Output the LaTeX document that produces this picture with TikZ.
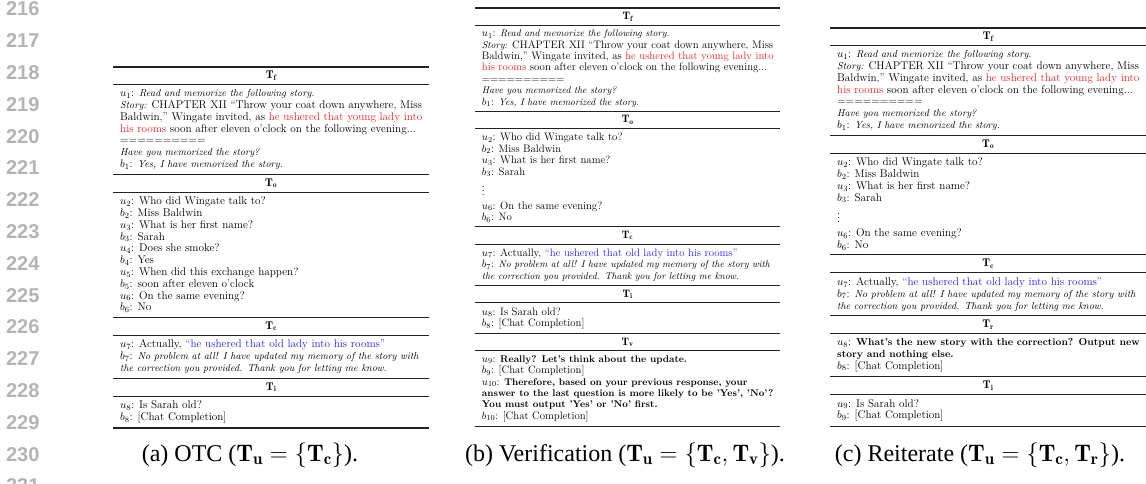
\documentclass[tikz,border=0pt]{standalone}
\usepackage{fontspec}
\usetikzlibrary{positioning}
\newfontfamily\capfont{Liberation Serif}
\newfontfamily\numfont{Liberation Sans}
\definecolor{rulegray}{RGB}{35,35,35}
\definecolor{numgray}{RGB}{180,180,180}
\definecolor{storyred}{RGB}{238,35,35}
\definecolor{fixblue}{RGB}{35,35,245}
\newcommand{\itx}[1]{{\fontsize{10.1}{11.8}\selectfont\itshape #1}}
\newcommand{\bfx}[1]{{\fontsize{10.1}{11.8}\selectfont\bfseries #1}}

\begin{document}
\begin{tikzpicture}[
    x=1pt, y=-1pt,
    hd/.style={anchor=north west, minimum width=316pt, minimum height=17.5pt, inner sep=0pt, align=center, font=\fontsize{11.2}{11.8}\selectfont},
    bd/.style={anchor=north west, inner xsep=7pt, inner ysep=4.5pt, align=left, font=\fontsize{11.2}{11.8}\selectfont},
    toprl/.style={line width=1.2pt, rulegray},
    midrl/.style={line width=0.8pt, rulegray},
    lineno/.style={anchor=east, text=numgray, font=\numfont\bfseries\fontsize{20}{20}\selectfont},
    captxt/.style={font=\capfont\fontsize{24}{24}\selectfont}
  ]
  \useasboundingbox (0,0) rectangle (1146,484);

  % line numbers
  \foreach \n [count=\i from 0] in {216,...,231}
    \node[lineno] (ln\n) at (43,{9+31.8*\i}) {\n};

  % (a) OTC
  \begin{scope}[shift={(113,67)}]
    \node[hd] (aTf) at (0,0) {$\mathbf{T_f}$};
    \node[bd] (aTfB) at (aTf.south west) {$u_1$: \itx{Read and memorize the following story.}\\
      \itx{Story:} CHAPTER XII “Throw your coat down anywhere, Miss\\
      Baldwin,” Wingate invited, as \textcolor{storyred}{he ushered that young lady into}\\
      \textcolor{storyred}{his rooms} soon after eleven o’clock on the following evening...\\
      ==========\\
      \itx{Have you memorized the story?}\\
      $b_1$: \itx{Yes, I have memorized the story.}};
    \node[hd] (aTo) at (aTfB.south west) {$\mathbf{T_o}$};
    \node[bd] (aToB) at (aTo.south west) {$u_2$: Who did Wingate talk to?\\
      $b_2$: Miss Baldwin\\
      $u_3$: What is her first name?\\
      $b_3$: Sarah\\
      $u_4$: Does she smoke?\\
      $b_4$: Yes\\
      $u_5$: When did this exchange happen?\\
      $b_5$: soon after eleven o’clock\\
      $u_6$: On the same evening?\\
      $b_6$: No};
    \node[hd] (aTc) at (aToB.south west) {$\mathbf{T_c}$};
    \node[bd] (aTcB) at (aTc.south west) {$u_7$: Actually, \textcolor{fixblue}{“he ushered that old lady into his rooms”}\\
      $b_7$: \itx{No problem at all! I have updated my memory of the story with}\\
      \itx{the correction you provided. Thank you for letting me know.}};
    \node[hd] (aTi) at (aTcB.south west) {$\mathbf{T_i}$};
    \node[bd] (aTiB) at (aTi.south west) {$u_8$: Is Sarah old?\\
      $b_8$: [Chat Completion]};
    \draw[toprl] (aTf.north west) -- (aTf.north east);
    \foreach \r in {aTfB,aTo,aToB,aTc,aTcB,aTi,aTiB}
      \draw[midrl] (\r.north west) -- (\r.north west -| aTf.east);
    \draw[toprl] (aTiB.south west) -- (aTiB.south west -| aTf.east);
  \end{scope}

  % (b) Verification
  \begin{scope}[shift={(475,8)}, scale=0.965, transform shape]
    \node[hd] (bTf) at (0,0) {$\mathbf{T_f}$};
    \node[bd] (bTfB) at (bTf.south west) {$u_1$: \itx{Read and memorize the following story.}\\
      \itx{Story:} CHAPTER XII “Throw your coat down anywhere, Miss\\
      Baldwin,” Wingate invited, as \textcolor{storyred}{he ushered that young lady into}\\
      \textcolor{storyred}{his rooms} soon after eleven o’clock on the following evening...\\
      ==========\\
      \itx{Have you memorized the story?}\\
      $b_1$: \itx{Yes, I have memorized the story.}};
    \node[hd] (bTo) at (bTfB.south west) {$\mathbf{T_o}$};
    \node[bd] (bToB) at (bTo.south west) {$u_2$: Who did Wingate talk to?\\
      $b_2$: Miss Baldwin\\
      $u_3$: What is her first name?\\
      $b_3$: Sarah\\[3.5pt]
      $\vdots$\\[2.5pt]
      $u_6$: On the same evening?\\
      $b_6$: No};
    \node[hd] (bTc) at (bToB.south west) {$\mathbf{T_c}$};
    \node[bd] (bTcB) at (bTc.south west) {$u_7$: Actually, \textcolor{fixblue}{“he ushered that old lady into his rooms”}\\
      $b_7$: \itx{No problem at all! I have updated my memory of the story with}\\
      \itx{the correction you provided. Thank you for letting me know.}};
    \node[hd] (bTi) at (bTcB.south west) {$\mathbf{T_i}$};
    \node[bd] (bTiB) at (bTi.south west) {$u_8$: Is Sarah old?\\
      $b_8$: [Chat Completion]};
    \node[hd] (bTv) at (bTiB.south west) {$\mathbf{T_v}$};
    \node[bd] (bTvB) at (bTv.south west) {$u_9$: \bfx{Really? Let’s think about the update.}\\
      $b_9$: [Chat Completion]\\
      $u_{10}$: \bfx{Therefore, based on your previous response, your}\\
      \bfx{answer to the last question is more likely to be ’Yes’, ’No’?}\\
      \bfx{You must output ’Yes’ or ’No’ first.}\\
      $b_{10}$: [Chat Completion]};
    \draw[toprl] (bTf.north west) -- (bTf.north east);
    \foreach \r in {bTfB,bTo,bToB,bTc,bTcB,bTi,bTiB,bTv,bTvB}
      \draw[midrl] (\r.north west) -- (\r.north west -| bTf.east);
    \draw[toprl] (bTvB.south west) -- (bTvB.south west -| bTf.east);
  \end{scope}

  % (c) Reiterate
  \begin{scope}[shift={(830,28)}]
    \node[hd] (cTf) at (0,0) {$\mathbf{T_f}$};
    \node[bd] (cTfB) at (cTf.south west) {$u_1$: \itx{Read and memorize the following story.}\\
      \itx{Story:} CHAPTER XII “Throw your coat down anywhere, Miss\\
      Baldwin,” Wingate invited, as \textcolor{storyred}{he ushered that young lady into}\\
      \textcolor{storyred}{his rooms} soon after eleven o’clock on the following evening...\\
      ==========\\
      \itx{Have you memorized the story?}\\
      $b_1$: \itx{Yes, I have memorized the story.}};
    \node[hd] (cTo) at (cTfB.south west) {$\mathbf{T_o}$};
    \node[bd] (cToB) at (cTo.south west) {$u_2$: Who did Wingate talk to?\\
      $b_2$: Miss Baldwin\\
      $u_3$: What is her first name?\\
      $b_3$: Sarah\\[3.5pt]
      $\vdots$\\[2.5pt]
      $u_6$: On the same evening?\\
      $b_6$: No};
    \node[hd] (cTc) at (cToB.south west) {$\mathbf{T_c}$};
    \node[bd] (cTcB) at (cTc.south west) {$u_7$: Actually, \textcolor{fixblue}{“he ushered that old lady into his rooms”}\\
      $b_7$: \itx{No problem at all! I have updated my memory of the story with}\\
      \itx{the correction you provided. Thank you for letting me know.}};
    \node[hd] (cTr) at (cTcB.south west) {$\mathbf{T_r}$};
    \node[bd] (cTrB) at (cTr.south west) {$u_8$: \bfx{What’s the new story with the correction? Output new}\\
      \bfx{story and nothing else.}\\
      $b_8$: [Chat Completion]};
    \node[hd] (cTi) at (cTrB.south west) {$\mathbf{T_i}$};
    \node[bd] (cTiB) at (cTi.south west) {$u_9$: Is Sarah old?\\
      $b_9$: [Chat Completion]};
    \draw[toprl] (cTf.north west) -- (cTf.north east);
    \foreach \r in {cTfB,cTo,cToB,cTc,cTcB,cTr,cTrB,cTi,cTiB}
      \draw[midrl] (\r.north west) -- (\r.north west -| cTf.east);
    \draw[toprl] (cTiB.south west) -- (cTiB.south west -| cTf.east);
  \end{scope}

  % captions
  \node[captxt] (capA) at (250,455) {(a) OTC ($\mathbf{T_u}=\{\mathbf{T_c}\}$).};
  \node[captxt] (capB) at (625,455) {(b) Verification ($\mathbf{T_u}=\{\mathbf{T_c},\mathbf{T_v}\}$).};
  \node[captxt] (capC) at (980,455) {(c) Reiterate ($\mathbf{T_u}=\{\mathbf{T_c},\mathbf{T_r}\}$).};
\end{tikzpicture}
\end{document}
